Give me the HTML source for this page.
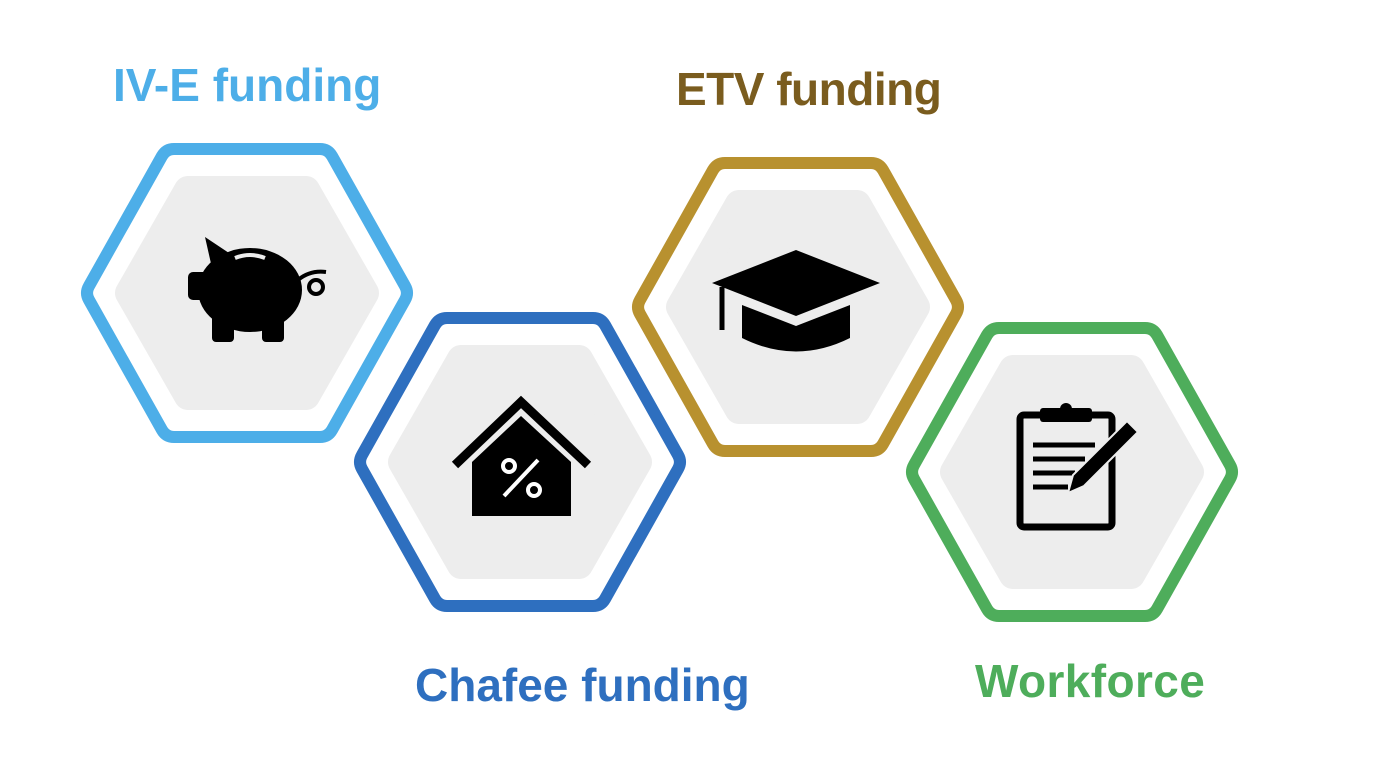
<!DOCTYPE html>
<html><head><meta charset="utf-8"><style>
html,body{margin:0;padding:0;background:#fff;}
body{width:1374px;height:768px;overflow:hidden;position:relative;font-family:"Liberation Sans",sans-serif;}
.t{position:absolute;font-weight:bold;font-size:46px;white-space:nowrap;}
</style></head><body>
<svg width="1374" height="768" style="position:absolute;left:0;top:0">
<defs>
<g id="hx"><path d="M-158,-7 L-85,-137 Q-81,-144 -73,-144 L73,-144 Q81,-144 85,-137 L158,-7 Q162,0 158,7 L85,137 Q81,144 73,144 L-73,144 Q-81,144 -85,137 L-158,7 Q-162,0 -158,-7 Z" fill="#fff" stroke-width="12" stroke-linejoin="round"/>
<polygon points="-118,0 -59,-103 59,-103 118,0 59,103 -59,103" fill="#ededed" stroke="#ededed" stroke-width="28" stroke-linejoin="round"/></g>
</defs>
<g transform="translate(247,293)" stroke="#4daee8"><use href="#hx"/></g>
<g transform="translate(520,462)" stroke="#2e6fbf"><use href="#hx"/></g>
<g transform="translate(798,307)" stroke="#b8912f"><use href="#hx"/></g>
<g transform="translate(1072,472)" stroke="#4ead5b"><use href="#hx"/></g>
<g fill="#000">
<ellipse cx="250" cy="290" rx="52" ry="42"/>
<rect x="188" y="272" width="20" height="28" rx="5"/>
<polygon points="205,237 232,255 212,268"/>
<rect x="212" y="310" width="22" height="32" rx="4"/>
<rect x="262" y="310" width="22" height="32" rx="4"/>
<circle cx="316" cy="287" r="7" fill="none" stroke="#000" stroke-width="4"/>
<path d="M298 280 Q310 270 326 272" stroke="#000" stroke-width="4" fill="none"/>
</g>
<path d="M235 258 Q250 252 265 258" stroke="#ededed" stroke-width="4" fill="none"/>
<polyline points="455,465 521,402 588,465" fill="none" stroke="#000" stroke-width="9"/>
<polygon points="472,462 521,416 571,462 571,516 472,516" fill="#000"/>
<circle cx="509" cy="466" r="6" fill="none" stroke="#fff" stroke-width="4"/>
<circle cx="534" cy="490" r="6" fill="none" stroke="#fff" stroke-width="4"/>
<line x1="538" y1="460" x2="504" y2="496" stroke="#fff" stroke-width="4"/>
<polygon points="712,283 796,250 880,283 796,316" fill="#000"/>
<path d="M742 305 L742 338 Q796 365 850 338 L850 305 L796 326 Z" fill="#000"/>
<line x1="722" y1="287" x2="722" y2="330" stroke="#000" stroke-width="5"/>
<rect x="1020" y="415" width="92" height="112" rx="4" fill="none" stroke="#000" stroke-width="7"/>
<rect x="1040" y="408" width="52" height="14" rx="3" fill="#000"/>
<circle cx="1066" cy="409" r="6" fill="#000"/>
<g stroke="#000" stroke-width="5">
<line x1="1033" y1="445" x2="1095" y2="445"/>
<line x1="1033" y1="459" x2="1085" y2="459"/>
<line x1="1033" y1="473" x2="1075" y2="473"/>
<line x1="1033" y1="487" x2="1068" y2="487"/>
</g>
<polygon points="1068,493 1073,475 1127,421 1138,432 1084,486" fill="#000" stroke="#ededed" stroke-width="2"/>
</svg>
<div class="t" style="left:113px;top:58px;color:#4daee8">IV-E funding</div>
<div class="t" style="left:676px;top:62px;color:#7a5c1e;letter-spacing:-0.5px">ETV funding</div>
<div class="t" style="left:415px;top:658px;color:#2e6fbf">Chafee funding</div>
<div class="t" style="left:975px;top:654px;color:#4ead5b;letter-spacing:0.4px">Workforce</div>
</body></html>
